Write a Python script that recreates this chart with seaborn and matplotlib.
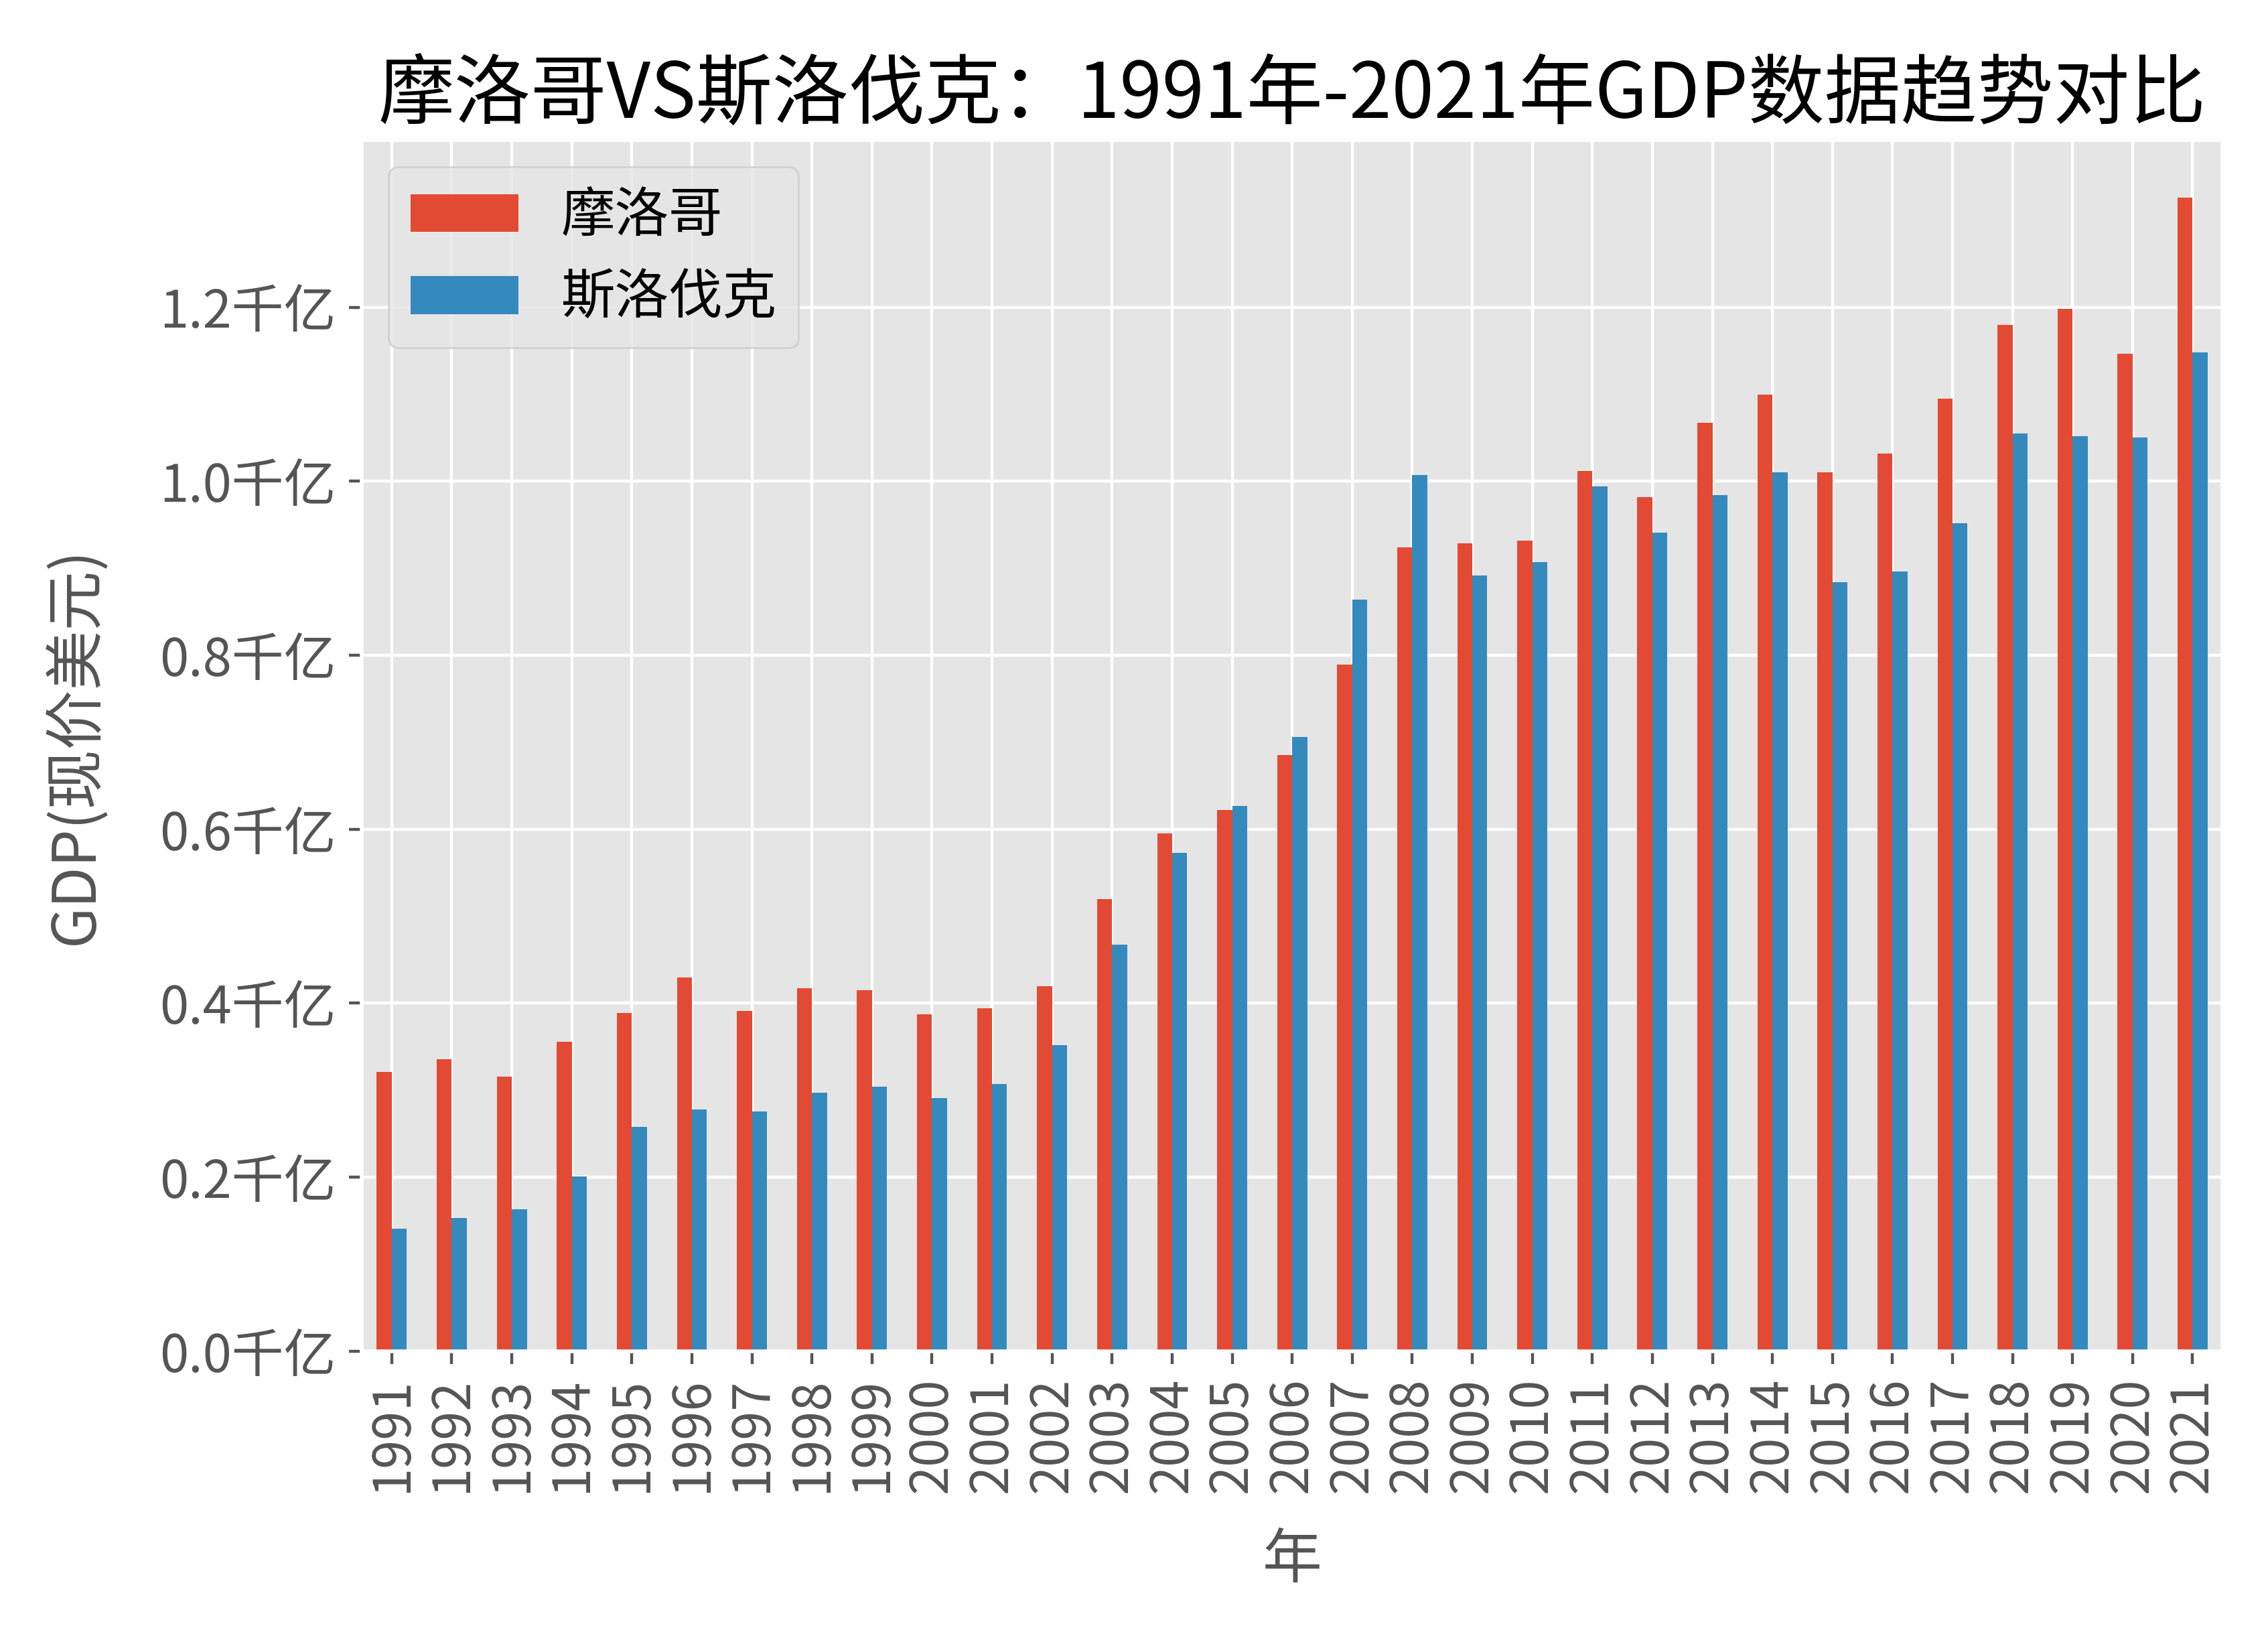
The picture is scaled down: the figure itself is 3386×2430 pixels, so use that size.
import pandas as pd
import matplotlib
import matplotlib.pyplot as plt
import seaborn as sns
from matplotlib.ticker import FuncFormatter

matplotlib.use('Agg')

# GDP (current USD), in billions
years = list(range(1991, 2022))
morocco = [32.1, 33.6, 31.6, 35.6, 38.9, 43.0, 39.1, 41.7, 41.5, 38.7,
           39.4, 42.0, 52.0, 59.5, 62.2, 68.5, 78.9, 92.4, 92.9, 93.2,
           101.2, 98.2, 106.7, 110.0, 101.0, 103.2, 109.5, 118.0, 119.8, 114.7,
           132.6]
slovakia = [14.1, 15.3, 16.3, 20.1, 25.8, 27.8, 27.6, 29.7, 30.4, 29.1,
            30.7, 35.2, 46.7, 57.3, 62.7, 70.6, 86.4, 100.7, 89.2, 90.7,
            99.4, 94.1, 98.4, 101.0, 88.4, 89.6, 95.2, 105.5, 105.2, 105.0,
            114.8]
countries = ['摩洛哥', '斯洛伐克']
colors = ['#E24A33', '#348ABD']

df = pd.DataFrame({
    '年': years * 2,
    'GDP': [v * 1e9 for v in morocco + slovakia],
    '国家': [countries[0]] * len(years) + [countries[1]] * len(years),
})

plt.style.use('ggplot')
plt.rcParams['font.family'] = ['Noto Sans CJK SC', 'DejaVu Sans']
plt.rcParams['axes.unicode_minus'] = False

fig = plt.figure(figsize=(8.465, 6.075), dpi=400)
ax = fig.add_axes([0.1595, 0.170, 0.8205, 0.744])
sns.barplot(data=df, x='年', y='GDP', hue='国家', palette=colors,
            width=0.5, saturation=1, ax=ax)

ax.xaxis.grid(True)
ax.set_axisbelow(True)
ax.yaxis.set_major_formatter(FuncFormatter(lambda x, p: f'{x / 1e11:.1f}千亿'))
ax.tick_params(axis='both', labelsize=14)
plt.xticks(rotation=90)
ax.set_title('摩洛哥VS斯洛伐克：1991年-2021年GDP数据趋势对比', fontsize=20.5)
ax.set_xlabel('年', fontsize=16, labelpad=10)
ax.set_ylabel('GDP(现价美元)', fontsize=16, labelpad=14)
ax.legend(loc='upper left', fontsize=14.5, title=None)

plt.savefig('out.png', dpi=400)
